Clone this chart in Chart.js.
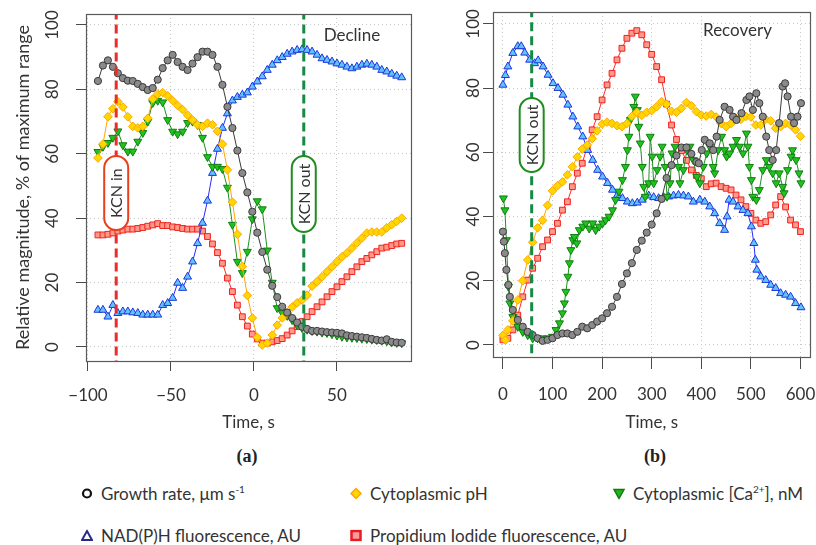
<!DOCTYPE html>
<html><head><meta charset="utf-8">
<script src="https://cdn.jsdelivr.net/npm/chart.js@4.4.1/dist/chart.umd.min.js"></script>
<style>
html,body{margin:0;padding:0;background:#fff;width:816px;height:545px;overflow:hidden;font-family:Lato,"Open Sans",sans-serif;}
#wrapA{position:absolute;left:0;top:0;width:430px;height:440px;}
#wrapB{position:absolute;left:430px;top:0;width:386px;height:440px;}
.plab{position:absolute;font-family:"Liberation Serif",serif;font-weight:bold;font-size:18px;color:#222;transform:translate(-50%,-50%);}
.leg{position:absolute;font-size:17px;color:#333;display:flex;align-items:center;transform:translateY(-50%);white-space:nowrap;}
.leg svg{margin-right:8px;flex:none;}
.leg sup{font-size:10px;vertical-align:super;line-height:0;}
</style></head><body>
<div id="wrapA"><canvas id="cA" width="430" height="440"></canvas></div>
<div id="wrapB"><canvas id="cB" width="386" height="440"></canvas></div>
<div class="plab" style="left:247px;top:456px;">(a)</div>
<div class="plab" style="left:655px;top:456px;">(b)</div>
<div class="leg" style="left:81px;top:493px;"><svg width="12" height="12"><circle cx="6" cy="6" r="4" fill="none" stroke="#111" stroke-width="2.2"/></svg><span>Growth rate, μm s<sup>-1</sup></span></div>
<div class="leg" style="left:350px;top:493px;"><svg width="12" height="12"><polygon points="6,1 11,6 6,11 1,6" fill="#ffd700" stroke="#ffa500" stroke-width="1.5"/></svg><span>Cytoplasmic pH</span></div>
<div class="leg" style="left:613px;top:493px;"><svg width="12" height="12"><polygon points="1,2 11,2 6,11" fill="#1fb51f" stroke="#137a13" stroke-width="1.5"/></svg><span>Cytoplasmic [Ca<sup>2+</sup>], nM</span></div>
<div class="leg" style="left:81px;top:535px;"><svg width="12" height="12"><polygon points="6,1.5 11,10.5 1,10.5" fill="#fff" stroke="#2a2a8a" stroke-width="2"/></svg><span>NAD(P)H fluorescence, AU</span></div>
<div class="leg" style="left:350px;top:535px;"><svg width="12" height="12"><rect x="1.5" y="1.5" width="9" height="9" fill="#ff9a9a" stroke="#e51c23" stroke-width="2.5"/></svg><span>Propidium Iodide fluorescence, AU</span></div>
<script>
// ---------- Panel (a): Decline ----------
const timeA = [-94,-91,-88,-85,-82,-79,-76,-73,-70,-67,-64,-61,-58,-55,-52,-49,-46,-43,-40,-37,-34,-31,-28,-25,-22,-19,-16,-13,-10,-7,-4,-1,2,5,8,11,14,17,20,23,26,29,32,35,38,41,44,47,50,53,56,59,62,65,68,71,74,77,80,83,86,89];
const growthA = [82.6,87.4,89,87,85,83.5,82.7,82.6,81.7,80.7,79.8,80.4,83,86.6,89,90.7,88.5,87,86,88,90,91.7,91.7,90.7,87,81.4,74.6,68,61,54,48,42,35.5,29.5,24,19,15.5,12.5,10.7,9,7.6,6.3,5.6,5,5,4.8,4.6,4.5,4.4,4.2,3.6,3.4,3.2,3,2.8,2.5,2.2,2,2.4,1.6,1.4,1.3];
const phA = [58.7,63,71.5,74,76.2,74.5,71.5,68.5,68,68.5,71,77,78.5,79,78,76.5,75,73.7,72,70.5,69,68.5,69.5,69,67,63,55,45,35,25,16,9,3,0.6,1.2,3.7,6.8,9,10.6,12.4,13.7,14.6,16.1,18.9,20.3,21.8,23.4,24.9,26.5,28,29.2,30.7,32.3,33.8,35.4,35.7,35.7,35.7,37,38,39,40];
const caA = [60.6,62.2,63.4,65,67,62.7,60.7,60.7,63.8,66.5,70,75.8,76.5,76,70.5,66.9,66.1,66.9,69.6,70,69,65,59,56,56,55.3,49.5,38,26.5,23,29.6,39.7,45.3,42.8,30,20,12.1,10.6,9.7,8.4,6.8,5.9,5.4,5,4.8,4.5,4.4,4,3.6,3.2,3,2.9,2.8,2.6,2.5,2.3,2.2,2,1.8,1.5,1.3,1.2];
const nadhA = [11.5,11.5,9.4,13,10.5,11,11,10.7,10.5,10,10,10,10,13,13.6,15.2,19.9,18.3,21.8,26.5,32.2,38.5,45.4,54,61.5,68,72.5,76.5,77.6,78.3,79,80.8,82.4,84,86,87.6,89,90,91,91.7,92.2,92.4,92.2,91.7,90.7,89.6,89.1,88.6,88,87.6,87,86.5,87,87.6,87.9,87.6,87,86,85.5,84.8,84.2,83.7];
const piA = [34.8,34.8,35,35.4,36,36.3,36.6,36.6,36.8,37.1,37.5,37.9,38.3,37.7,37.7,37.3,37.1,36.8,36.6,36.6,36.6,36,34.3,32,29.3,26,21.4,17.2,13,9.4,6.5,4,2.5,1.2,1.2,1.6,2,2.6,3.7,5,6.3,7.9,9.4,11,12.5,14,15.6,17.2,18.7,20.3,21.8,23.4,24.9,26.5,27.5,28.6,29.6,30.7,31,31.5,32,32.2];
const xTicksA = [-100,-50,0,50];
const kcnInA = -83, kcnOutA = 30;

// ---------- Panel (b): Recovery ----------
const growthBTime = [0,2,4,7,11,14,20,30,40,50,60,70,80,90,100,110,120,130,140,150,160,170,180,190,200,210,220,230,240,250,260,270,280,290,300,310,320,330,340,350,360,370,380,390,395,401,407,417,424,431,437,447,457,464,471,481,491,497,504,511,517,524,531,537,544,551,557,564,569,574,581,587,594,601];
const growthB = [35.3,32.2,28.6,23.4,18.7,15,10.9,7.8,5.7,4.1,3.1,2.1,1.3,1.6,2.1,3.1,3.6,3.6,3.1,4.1,5.7,5.2,6.2,7.3,8.3,9.9,11.9,15,19,22.3,25.5,29.6,32.5,35,37.5,41,45.5,52,56,59,61.5,61.5,59.5,57,56.6,60.7,63.9,62.8,60.7,64.9,70.1,74.2,73.2,71.1,70.1,72.2,76.3,77.4,73.2,78.4,75.3,71.1,64.9,60.7,57.6,60.7,69.1,80.5,81.5,77.4,71.1,69.1,71.1,75.3];
const phBTime = [0,5,10,20,30,40,50,60,70,80,90,100,110,120,130,140,150,160,170,180,190,200,210,220,230,240,250,260,270,280,290,300,310,320,330,340,350,360,370,380,390,400,410,420,430,440,450,460,470,480,490,500,510,520,530,540,550,560,570,580,590,600];
const phB = [3,1.5,4.7,7.5,14,20,26.5,32,36.5,38.8,43.5,48,49.6,50.8,53,55.5,58.6,61,62.3,64.3,66.7,68.8,69.4,69,68.3,68,69,71.2,72.5,71.5,72.5,73,74.2,75.8,75,72.8,72.5,73.7,75.5,74.5,72.7,71.6,71.3,71.8,71,69,68,69,70.6,70.3,71.2,71,68.5,68.5,70.3,69.8,67.5,68,69,68.5,67,65];
const caBTime = [1,4,7,11,14,20,30,40,50,60,70,80,90,100,107,114,120,124,127,131,134,137,141,144,149,154,161,167,174,181,187,194,201,207,214,221,227,234,241,247,251,254,257,264,267,271,274,277,281,284,287,294,297,301,304,311,317,321,327,331,337,341,347,354,357,364,371,377,384,391,397,404,411,417,424,427,434,441,447,451,457,464,471,477,484,491,494,497,501,504,511,517,524,531,537,544,551,557,564,567,574,581,584,591,597,601];
const caB = [45.7,42,32.7,18.2,13,8.8,5.7,4.1,3.1,2.1,2.1,2.1,2.1,2.6,4.7,6.8,9.9,13,16.6,21.3,25.5,29.6,32.7,33.7,31.7,35.8,36.9,37.9,36.3,37.9,35.8,36.9,37.9,38.9,40,42,45.2,47.8,51.4,55.5,60.7,64.9,70.1,74.2,77.4,73.2,68,62.8,55.5,49.3,46.2,50.4,64.9,58.7,50.4,54.5,58.7,61.8,55.5,46.2,50.4,59.7,61.8,55.5,50.4,54.5,60.7,61.8,57.6,52.4,50.4,55.5,59.7,61.8,55.5,53.5,60.7,64.9,60.7,58.7,59.7,61.8,63.9,61.8,59.7,65.9,61.8,55.5,51.4,46.2,45.2,48.3,54.5,57.6,55.5,53.5,50.4,53.5,49.3,47.3,54.5,58.7,60.7,57.6,53.5,50.4];
const nadhBTime = [0,5,10,20,30,37,44,54,64,71,81,91,101,111,121,131,141,151,161,171,181,191,201,211,221,231,241,251,261,271,281,294,304,314,324,334,344,354,364,374,384,397,407,417,427,437,447,452,456,464,474,484,494,501,506,509,512,520,530,540,550,560,570,580,590,601];
const nadhB = [81,84,86.7,90.9,93,93,91,88.8,87.7,88.6,86.7,84.1,81.5,80,77.9,74.8,71.1,68,64.9,60.7,57.6,54.5,52.4,50.4,48.3,46.7,45.7,44.6,44.1,44.3,45.2,46.5,46,45.7,46,46.2,46.5,46.7,46.5,46.2,44.6,45.2,44.6,43.1,41,37.9,35.8,40,45.2,44.6,43.1,42,41,36.9,31.7,26.5,23.4,21.3,20.2,18.7,17.7,16.1,15.6,15,13,11.7];
const piBTime = [0,10,20,30,40,50,60,70,80,90,100,110,120,130,140,150,160,170,180,190,200,210,220,230,240,250,260,270,280,290,300,310,320,330,340,350,360,370,380,390,400,410,420,430,440,450,460,470,480,490,500,510,520,530,540,550,560,570,580,590,600];
const piB = [1.6,2.1,4.7,9.3,15,20.2,23.9,27,30.6,32.7,35.3,37.9,42,44.6,49.3,53.5,56.6,61.8,67,71.1,76.3,81,84.6,88.8,92.4,95.5,97.1,97.9,96.6,93.5,90.5,86.7,82.6,75,68.5,64,60.5,57.5,54.5,52.8,51.8,49.3,50.2,50.4,49.3,48.8,48.3,46.7,45.2,43.1,41,38.9,37.9,38.4,40.5,43.6,46.2,43,38.9,37.4,35.3];
const xTicksB = [0,100,200,300,400,500,600];
const kcnOutB = 58;
const yTicks = [0,20,40,60,80,100];

// ---------- helpers ----------
Chart.defaults.font.family = 'Lato';
Chart.defaults.color = '#333';

const STY = {
  growth:{bg:'#8a8a8a', bd:'#3a3a3a', line:'#3a3a3a', style:'circle', r:3.6, rot:0},
  ph:{bg:'#ffd700', bd:'#ffa500', line:'#ffa500', style:'rectRot', r:4.3, rot:0},
  ca:{bg:'#1fc21f', bd:'#0f7f0f', line:'#1f901f', style:'triangle', r:4.6, rot:180},
  nadh:{bg:'#5ec3ff', bd:'#1f35d8', line:'#2a2aff', style:'triangle', r:4.6, rot:0},
  pi:{bg:'#ff9a88', bd:'#f02020', line:'#ff2a2a', style:'rect', r:4.1, rot:0}
};
function pts(t, v){ return t.map((x,i)=>({x:x, y:v[i]})); }
function series(label, t, v, k){
  const s = STY[k];
  return {label, data:pts(t,v), borderColor:s.line, borderWidth:1, pointStyle:s.style, pointRotation:s.rot,
    pointRadius:s.r, pointBackgroundColor:s.bg, pointBorderColor:s.bd, pointBorderWidth:1, fill:false, tension:0};
}
function vline(xv, color){
  return {label:'_kcn', data:[{x:xv,y:-20},{x:xv,y:120}], borderColor:color, borderWidth:3,
    borderDash:[9,5], pointRadius:0, fill:false};
}

const decor = {
  id:'decor',
  afterDatasetsDraw(chart, args, o){
    const {ctx, chartArea:a} = chart;
    const xs = chart.scales.x, ys = chart.scales.y;
    ctx.save();
    ctx.strokeStyle = '#5a5a5a'; ctx.lineWidth = 1.2;
    ctx.strokeRect(Math.round(a.left)+0.5, Math.round(a.top)+0.5, Math.round(a.right-a.left), Math.round(a.bottom-a.top));
    ctx.fillStyle = '#333'; ctx.font = '17px Lato'; ctx.textAlign = 'center'; ctx.textBaseline = 'middle';
    o.yTicks.forEach(v=>{
      ctx.save(); ctx.translate(o.yLabelX, ys.getPixelForValue(v)); ctx.rotate(-Math.PI/2);
      ctx.fillText(String(v), 0, 0); ctx.restore();
    });
    o.pills.forEach(p=>{
      const cx = xs.getPixelForValue(p.x), cy = ys.getPixelForValue(p.y);
      const w = 24, h = p.h;
      ctx.beginPath(); ctx.roundRect(cx-w/2, cy-h/2, w, h, w/2);
      ctx.fillStyle = '#fff'; ctx.fill(); ctx.lineWidth = 2; ctx.strokeStyle = p.color; ctx.stroke();
      ctx.save(); ctx.translate(cx+1, cy); ctx.rotate(-Math.PI/2);
      ctx.fillStyle = '#333'; ctx.font = '16px Lato'; ctx.fillText(p.text, 0, 0); ctx.restore();
    });
    ctx.font = '17px Lato'; ctx.fillStyle = '#333';
    ctx.fillText(o.tag.text, xs.getPixelForValue(o.tag.x), ys.getPixelForValue(o.tag.y));
    ctx.restore();
  }
};

function axes(xmin, xmax, xt, xTickLen, xPad, axH, ymin, ymax, axW, yTitle){
  const grid = {color:'#c8c8c8', lineWidth:1, drawTicks:true, tickColor:'#4a4a4a', tickWidth:1};
  return {
    x:{type:'linear', position:'bottom', min:xmin, max:xmax,
      afterBuildTicks:s=>{ s.ticks = xt.map(v=>({value:v})); },
      afterFit:s=>{ s.height = axH; s.paddingLeft = 0; s.paddingRight = 0; },
      ticks:{font:{size:17}, color:'#333', padding:xPad, maxRotation:0, minRotation:0, autoSkip:false,
        callback:v=>String(v).replace('-','\u2212')},
      grid:Object.assign({tickLength:xTickLen}, grid),
      border:{display:false, dash:[1,3]},
      title:{display:true, text:'Time, s', font:{size:17}, color:'#333', padding:{top:0,bottom:7}}
    },
    y:{type:'linear', position:'left', min:ymin, max:ymax,
      afterBuildTicks:s=>{ s.ticks = yTicks.map(v=>({value:v})); },
      afterFit:s=>{ s.width = axW; s.paddingTop = 0; s.paddingBottom = 0; },
      ticks:{display:false},
      grid:Object.assign({tickLength:10}, grid),
      border:{display:false, dash:[1,3]},
      title:{display:!!yTitle, text:yTitle||'', font:{size:18}, color:'#333', padding:{top:12,bottom:0}}
    }
  };
}

new Chart(document.getElementById('cA'), {
  type:'line',
  data:{datasets:[
    vline(kcnInA, '#ee2b2b'),
    vline(kcnOutA, '#168a45'),
    series('Growth rate', timeA, growthA, 'growth'),
    series('Cytoplasmic pH', timeA, phA, 'ph'),
    series('Cytoplasmic Ca', timeA, caA, 'ca'),
    series('NAD(P)H', timeA, nadhA, 'nadh'),
    series('Propidium Iodide', timeA, piA, 'pi')
  ]},
  options:{responsive:false, animation:false, events:[],
    layout:{padding:{top:14, right:19, left:0, bottom:0}},
    scales:axes(-101.2, 94.6, xTicksA, 10, 14, 79, -4.35, 103.4, 86, 'Relative magnitude, % of maximum range'),
    plugins:{legend:{display:false}, tooltip:{enabled:false},
      decor:{yTicks:yTicks, yLabelX:53,
        pills:[{x:kcnInA, y:47.8, h:74, color:'#e8401c', text:'KCN in'},{x:kcnOutA, y:47.5, h:76, color:'#1e8c1e', text:'KCN out'}],
        tag:{text:'Decline', x:59, y:96.8}}}
  },
  plugins:[decor]
});

new Chart(document.getElementById('cB'), {
  type:'line',
  data:{datasets:[
    vline(kcnOutB, '#168a45'),
    series('Growth rate', growthBTime, growthB, 'growth'),
    series('Cytoplasmic pH', phBTime, phB, 'ph'),
    series('Cytoplasmic Ca', caBTime, caB, 'ca'),
    series('NAD(P)H', nadhBTime, nadhB, 'nadh'),
    series('Propidium Iodide', piBTime, piB, 'pi')
  ]},
  options:{responsive:false, animation:false, events:[],
    layout:{padding:{top:12, right:3, left:0, bottom:0}},
    scales:axes(-20, 620, xTicksB, 12, 15, 83, -3.74, 103.7, 63, ''),
    plugins:{legend:{display:false}, tooltip:{enabled:false},
      decor:{yTicks:yTicks, yLabelX:44,
        pills:[{x:kcnOutB, y:65.4, h:74, color:'#1e8c1e', text:'KCN out'}],
        tag:{text:'Recovery', x:473, y:97.8}}}
  },
  plugins:[decor]
});
</script>
</body></html>
